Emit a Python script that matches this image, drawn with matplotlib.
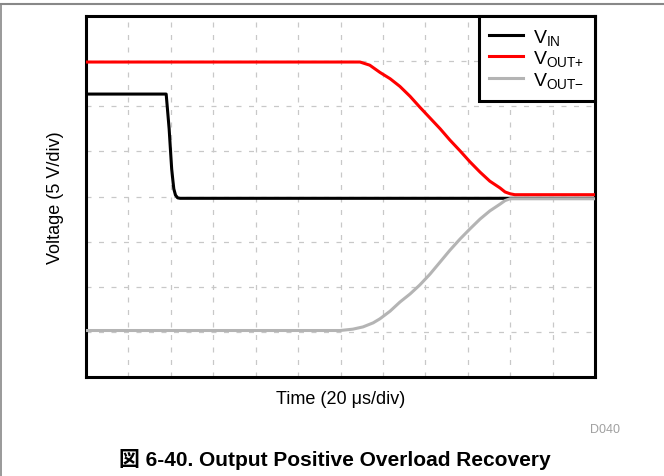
import matplotlib
matplotlib.use("Agg")
import matplotlib.pyplot as plt
from matplotlib.lines import Line2D

plt.rcParams['font.family'] = ['Liberation Sans', 'Noto Sans CJK JP', 'DejaVu Sans']
plt.rcParams['mathtext.fontset'] = 'custom'
plt.rcParams['mathtext.rm'] = 'Liberation Sans'
plt.rcParams['mathtext.it'] = 'Liberation Sans'

# Time in divisions (20 us/div) and voltage in divisions (5 V/div)
vin_t = [0.0, 1.89, 1.92, 1.96, 1.99, 2.02, 2.05, 2.07, 2.11, 2.16, 2.22, 12.0]
vin_v = [6.27, 6.27, 5.94, 5.50, 5.05, 4.61, 4.34, 4.17, 4.03, 3.97, 3.96, 3.96]

voutp_t = [0.0, 6.46, 6.69, 6.93, 7.17, 7.40, 7.64, 7.87, 8.11, 8.35, 8.58, 8.82,
           9.05, 9.29, 9.52, 9.76, 9.88, 10.0, 10.11, 12.0]
voutp_v = [6.98, 6.98, 6.91, 6.75, 6.61, 6.44, 6.22, 5.98, 5.74, 5.50, 5.25, 5.01,
           4.77, 4.54, 4.34, 4.19, 4.10, 4.06, 4.04, 4.04]

voutn_t = [0.0, 5.99, 6.29, 6.53, 6.77, 6.93, 7.17, 7.40, 7.64, 7.87, 8.11, 8.35,
           8.58, 8.82, 9.05, 9.29, 9.52, 9.76, 9.88, 10.0, 12.0]
voutn_v = [1.03, 1.03, 1.06, 1.11, 1.20, 1.29, 1.46, 1.66, 1.84, 2.04, 2.28, 2.55,
           2.81, 3.06, 3.28, 3.50, 3.68, 3.83, 3.91, 3.95, 3.95]

fig = plt.figure(figsize=(6.64, 4.77), dpi=100)
ax = fig.add_axes([86 / 664, 99 / 477, 509 / 664, 361 / 477])

ax.plot(vin_t, vin_v, color='black', lw=2.2, label=r'V$_{\mathrm{IN}}$', zorder=3)
ax.plot(voutp_t, voutp_v, color='#ff0000', lw=2.2, label=r'V$_{\mathrm{OUT}{+}}$', zorder=3)
ax.plot(voutn_t, voutn_v, color='#b4b4b4', lw=2.2, label=r'V$_{\mathrm{OUT}{-}}$', zorder=4)

ax.set_xlim(0, 12)
ax.set_ylim(0, 8)
ax.set_xticks(range(1, 12))
ax.set_yticks(range(1, 8))
ax.tick_params(length=0, labelbottom=False, labelleft=False)
ax.grid(True, color='#c8c8c8', lw=0.9, linestyle=(0, (4, 6)))
for s in ax.spines.values():
    s.set_linewidth(2.2)
    s.set_color('black')

ax.set_xlabel('Time (20 \u03bcs/div)', fontsize=13)
ax.xaxis.set_label_coords(0.5, -(400 - 378) / 361, transform=ax.transAxes)
ax.xaxis.label.set_va('center')
ax.set_ylabel('Voltage (5 V/div)', fontsize=13)
ax.yaxis.set_label_coords(-(86 - 55) / 509, (378 - 198) / 361, transform=ax.transAxes)
ax.yaxis.label.set_va('center')

leg = ax.legend(loc='upper right', borderaxespad=0, fancybox=False, fontsize=14,
                handlelength=1.75, handletextpad=0.5, labelspacing=0.08,
                borderpad=0.55, framealpha=1)
leg.get_frame().set_edgecolor('black')
leg.get_frame().set_linewidth(2.2)

fig.text(335 / 664, 1 - 460 / 477, '\u56f3 6-40. Output Positive Overload Recovery',
         ha='center', va='center', fontsize=15, fontweight='bold')
fig.text(605 / 664, 1 - 430 / 477, 'D040', ha='center', va='center',
         fontsize=9, color='#a0a0a0')

# page rules
fig.add_artist(Line2D([0, 1], [1 - 4.5 / 477, 1 - 4.5 / 477], color='#888888', lw=1.5,
                      transform=fig.transFigure))
fig.add_artist(Line2D([1.2 / 664, 1.2 / 664], [0, 1 - 4.5 / 477], color='#888888', lw=1.2,
                      transform=fig.transFigure))

fig.savefig('out.png', dpi=100)
